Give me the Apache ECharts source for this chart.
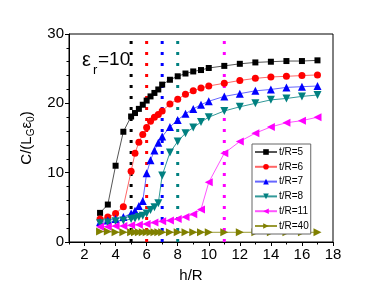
<!DOCTYPE html>
<html>
<head>
<meta charset="utf-8">
<script src="https://cdn.jsdelivr.net/npm/echarts@6/dist/echarts.min.js"></script>
<style>html,body{margin:0;padding:0;background:#fff;}#c{width:388px;height:291px;}</style>
</head>
<body>
<div id="c"></div>
<script>
// ---- data ----
const xDense = [3, 3.5, 4, 4.5, 5, 5.25, 5.5, 5.75, 6, 6.25, 6.5, 6.75, 7, 7.5, 8, 8.5, 9, 9.5, 10, 11, 12, 13, 14, 15, 16, 17];
const xMag = [3, 3.5, 4, 4.5, 5, 5.5, 6, 6.5, 7, 7.5, 8, 8.5, 9, 9.5, 10, 11, 12, 13, 14, 15, 16, 17];
const names = ['t/R=5', 't/R=6', 't/R=7', 't/R=8', 't/R=11', 't/R=40'];
const y5 = [4.2, 5.4, 11.0, 15.9, 18.1, 18.6, 19.2, 19.8, 20.4, 21.0, 21.5, 22.0, 22.7, 23.4, 23.9, 24.3, 24.6, 24.8, 25.1, 25.4, 25.7, 25.9, 26.0, 26.1, 26.1, 26.2];
const y6 = [3.3, 3.6, 4.1, 5.1, 10.2, 12.8, 14.4, 15.5, 16.5, 17.4, 18.0, 18.4, 18.9, 19.9, 20.6, 21.3, 21.8, 22.2, 22.5, 22.9, 23.3, 23.6, 23.8, 23.9, 24.0, 24.1];
const y7 = [2.9, 3.1, 3.3, 3.6, 4.1, 4.5, 5.2, 5.9, 9.9, 11.8, 13.2, 14.3, 15.2, 16.6, 17.6, 18.5, 19.2, 19.8, 20.3, 21.0, 21.4, 21.8, 22.0, 22.3, 22.4, 22.5];
const y8 = [2.7, 2.8, 3.0, 3.1, 3.3, 3.4, 3.6, 3.8, 4.1, 4.6, 5.0, 5.6, 9.6, 12.9, 14.5, 15.7, 16.5, 17.3, 18.0, 18.9, 19.5, 20.0, 20.5, 20.7, 21.0, 21.2];
const y11 = [2.2, 2.2, 2.3, 2.3, 2.4, 2.5, 2.6, 2.8, 3.0, 3.1, 3.3, 3.6, 4.0, 4.7, 8.6, 12.8, 14.5, 15.7, 16.6, 17.2, 17.5, 18.0];
const y40 = [1.5, 1.5, 1.4, 1.4, 1.4, 1.4, 1.4, 1.4, 1.4, 1.4, 1.4, 1.4, 1.4, 1.4, 1.4, 1.4, 1.4, 1.4, 1.4, 1.4, 1.4, 1.4, 1.4, 1.4, 1.4, 1.4];
const vLinesX = [5, 6, 7, 8, 11];
const vLineTop = 29.5;
const xLabels = [2, 4, 6, 8, 10, 12, 14, 16, 18];
const xMinorTicks = [1, 3, 5, 7, 9, 11, 13, 15, 17];

const colors = ['#000000', '#ff0000', '#0000ff', '#008080', '#ff00ff', '#808000'];
const lineColors = ['#555555', '#ff6666', '#6666ff', '#339999', '#ff55ff', '#999933'];
const symbols = ['rect', 'circle', 'triangle', 'triangle', 'triangle', 'triangle'];
const rotations = [0, 0, 0, 180, 90, -90];
const ySets = [y5, y6, y7, y8, y11, y40];
const xSets = [xDense, xDense, xDense, xDense, xMag, xDense];
const vColors = ['#000000', '#ff0000', '#0000ff', '#008080', '#ff00ff'];

const FONT = 'Liberation Sans';
const series = [];
vLinesX.forEach((v, i) => {
  series.push({
    type: 'line', xAxisIndex: 0, yAxisIndex: 0, silent: true, symbol: 'none', z: 1,
    data: [[v, 0], [v, vLineTop]],
    lineStyle: { color: vColors[i], width: 3, type: [3, 8], cap: 'butt' }
  });
});
names.forEach((n, i) => {
  series.push({
    name: n, type: 'line', xAxisIndex: 0, yAxisIndex: 0, z: 3,
    data: xSets[i].map((x, k) => [x, ySets[i][k]]),
    symbol: symbols[i], symbolRotate: rotations[i],
    symbolSize: symbols[i] === 'rect' ? 6 : (symbols[i] === 'circle' ? 7 : 8),
    lineStyle: { color: lineColors[i], width: 1 },
    itemStyle: { color: colors[i] }
  });
});

const chart = echarts.init(document.getElementById('c'), null, { renderer: 'canvas' });
chart.setOption({
  animation: false,
  backgroundColor: '#fff',
  textStyle: { fontFamily: FONT },
  grid: { left: 69, right: 55, top: 34, bottom: 49, show: true, borderColor: '#000', borderWidth: 1, backgroundColor: 'transparent' },
  legend: {
    orient: 'vertical', left: 252, top: 144,
    data: names, itemWidth: 22, itemHeight: 7, itemGap: 4.8,
    padding: [3, 2, 3, 2], borderColor: '#666', borderWidth: 1, backgroundColor: '#fff',
    textStyle: { fontSize: 10, fontFamily: FONT, color: '#000', padding: [0, 0, 0, -3] }
  },
  xAxis: [{
    type: 'value', min: 1, max: 18,
    name: 'h/R', nameLocation: 'middle', nameGap: 26,
    nameTextStyle: { fontSize: 15, fontFamily: FONT, color: '#000', padding: [0, 20, 0, 0] },
    axisLine: { lineStyle: { color: '#000', width: 1 } },
    axisTick: { customValues: xLabels, inside: false, length: 4, lineStyle: { color: '#000' } },
    axisLabel: { customValues: xLabels, fontSize: 15, fontFamily: FONT, color: '#000', margin: 5 },
    splitLine: { show: false }
  }, {
    type: 'value', min: 1, max: 18, position: 'bottom',
    axisLine: { show: false },
    axisTick: { customValues: xMinorTicks, inside: false, length: 2.5, lineStyle: { color: '#000' } },
    axisLabel: { show: false },
    splitLine: { show: false }
  }],
  yAxis: {
    type: 'value', min: 0, max: 30, interval: 10,
    name: 'C/(L{s|G}ε{s|0})', nameLocation: 'middle', nameGap: 27, nameRotate: 90,
    nameTextStyle: {
      fontSize: 15, fontFamily: FONT, color: '#000', lineHeight: 20,
      rich: { s: { fontSize: 10, fontFamily: FONT, color: '#000', verticalAlign: 'bottom', lineHeight: 12 } }
    },
    axisLine: { lineStyle: { color: '#000', width: 1 } },
    axisTick: { inside: false, length: 4, lineStyle: { color: '#000' } },
    minorTick: { show: true, splitNumber: 5, length: 2.5, lineStyle: { color: '#000' } },
    axisLabel: { fontSize: 15, fontFamily: FONT, color: '#000', margin: 5 },
    splitLine: { show: false }
  },
  graphic: [
    { type: 'text', left: 82, top: 50, style: { text: 'ε', fontSize: 20, fontFamily: FONT, fill: '#000' } },
    { type: 'text', left: 93, top: 64, style: { text: 'r', fontSize: 13, fontFamily: FONT, fill: '#000' } },
    { type: 'text', left: 98, top: 50, style: { text: '=10', fontSize: 19, fontFamily: FONT, fill: '#000' } }
  ],
  series: series
});
</script>
</body>
</html>
